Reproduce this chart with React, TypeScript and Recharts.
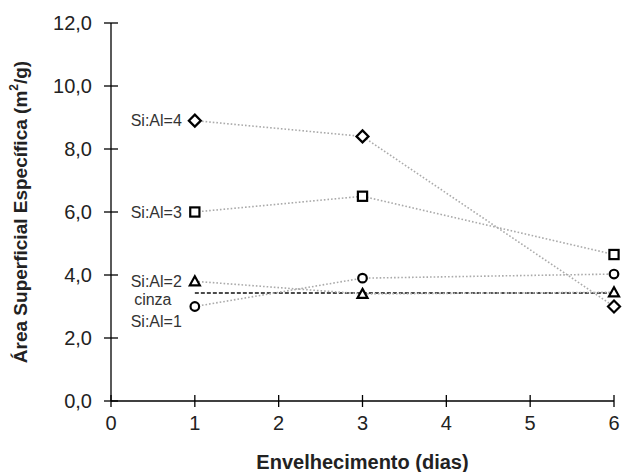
import React from 'react'
import { LineChart, Line, XAxis, YAxis, Label } from 'recharts'

const days = [1, 3, 6]
const siAl4 = [8.9, 8.4, 3.0]
const siAl3 = [6.0, 6.5, 4.65]
const siAl2 = [3.8, 3.4, 3.45]
const siAl1 = [3.0, 3.9, 4.03]
const cinza = [3.43, 3.43, 3.43]

const xTicks = [0, 1, 2, 3, 4, 5, 6]
const yTicks = [0, 2, 4, 6, 8, 10, 12]

const data = days.map((day, i) => ({
  day,
  siAl4: siAl4[i],
  siAl3: siAl3[i],
  siAl2: siAl2[i],
  siAl1: siAl1[i],
  cinza: cinza[i],
}))

const FONT = "Arial, 'Liberation Sans', sans-serif"
const TEXT = '#222'
const GREY = '#aaaaaa'

type Shape = 'diamond' | 'square' | 'triangle' | 'circle'

const makeDot = (shape: Shape) => (props: any) => {
  const { cx, cy, index } = props
  const common = { fill: '#fff', stroke: '#000', strokeWidth: 2.2 }
  if (cx == null || cy == null) return <g key={index} />
  if (shape === 'diamond') {
    return <polygon key={index} points={`${cx},${cy - 6} ${cx + 6},${cy} ${cx},${cy + 6} ${cx - 6},${cy}`} {...common} />
  }
  if (shape === 'square') {
    return <rect key={index} x={cx - 4.6} y={cy - 4.6} width={9.2} height={9.2} {...common} />
  }
  if (shape === 'triangle') {
    return <polygon key={index} points={`${cx},${cy - 5} ${cx + 5},${cy + 4} ${cx - 5},${cy + 4}`} {...common} />
  }
  return <circle key={index} cx={cx} cy={cy} r={4.3} {...common} />
}

const makeLabel = (text: string, dx: number, dy: number, anchor: 'end' | 'middle') => (props: any) => {
  const { x, y, index } = props
  if (index !== 0) return <g key={`l${index}`} />
  return (
    <text
      key={`l${index}`}
      x={x + dx}
      y={y + dy}
      textAnchor={anchor}
      dominantBaseline="central"
      fontFamily={FONT}
      fontSize={16}
      fill="#333"
    >
      {text}
    </text>
  )
}

const XTick = (props: any) => {
  const { x, y, payload } = props
  return (
    <g>
      <line x1={x} x2={x} y1={y - 6} y2={y + 6} stroke="#000" strokeWidth={1.3} />
      <text x={x} y={y + 22} textAnchor="middle" dominantBaseline="central" fontFamily={FONT} fontSize={20} fill={TEXT}>
        {payload.value}
      </text>
    </g>
  )
}

const YTick = (props: any) => {
  const { x, y, payload } = props
  return (
    <g>
      <line x1={x - 7} x2={x + 7} y1={y} y2={y} stroke="#000" strokeWidth={1.3} />
      <text x={x - 19} y={y} textAnchor="end" dominantBaseline="central" fontFamily={FONT} fontSize={20} fill={TEXT}>
        {payload.value.toFixed(1).replace('.', ',')}
      </text>
    </g>
  )
}

export default function App() {
  return (
    <div style={{ position: 'absolute', left: 0, top: 0, background: '#fff' }}>
      <LineChart width={637} height={472} data={data} margin={{ top: 23, right: 23, bottom: 0, left: 0 }}>
        <XAxis
          dataKey="day"
          type="number"
          domain={[0, 6]}
          ticks={xTicks}
          height={71}
          tickSize={0}
          tickMargin={0}
          tickLine={false}
          tick={<XTick />}
          axisLine={{ stroke: '#000', strokeWidth: 1.3 }}
          interval={0}
        >
          <Label
            content={(p: any) => {
              const vb = p.viewBox
              return (
                <text
                  x={vb.x + vb.width / 2}
                  y={vb.y + 61}
                  textAnchor="middle"
                  dominantBaseline="central"
                  fontFamily={FONT}
                  fontSize={20}
                  fontWeight="bold"
                  fill={TEXT}
                >
                  Envelhecimento (dias)
                </text>
              )
            }}
          />
        </XAxis>
        <YAxis
          type="number"
          domain={[0, 12]}
          ticks={yTicks}
          width={111}
          tickSize={0}
          tickMargin={0}
          tickLine={false}
          tick={<YTick />}
          axisLine={{ stroke: '#000', strokeWidth: 1.3 }}
          interval={0}
        >
          <Label
            content={(p: any) => {
              const vb = p.viewBox
              const cx = vb.x + 20
              const cy = vb.y + vb.height / 2
              return (
                <text
                  x={cx}
                  y={cy}
                  transform={`rotate(-90, ${cx}, ${cy})`}
                  textAnchor="middle"
                  dominantBaseline="central"
                  fontFamily={FONT}
                  fontSize={19}
                  fontWeight="bold"
                  fill={TEXT}
                >
                  Área Superficial Específica (m<tspan dy={-6} fontSize={12}>2</tspan><tspan dy={6}>/g)</tspan>
                </text>
              )
            }}
          />
        </YAxis>
        <Line
          dataKey="cinza"
          stroke="#111"
          strokeWidth={1.4}
          strokeDasharray="4 2"
          dot={false}
          isAnimationActive={false}
          label={makeLabel('cinza', -42, 7, 'middle')}
        />
        <Line
          dataKey="siAl4"
          stroke={GREY}
          strokeWidth={1.6}
          strokeDasharray="1.6 2"
          dot={makeDot('diamond')}
          isAnimationActive={false}
          label={makeLabel('Si:Al=4', -13, 0, 'end')}
        />
        <Line
          dataKey="siAl3"
          stroke={GREY}
          strokeWidth={1.6}
          strokeDasharray="1.6 2"
          dot={makeDot('square')}
          isAnimationActive={false}
          label={makeLabel('Si:Al=3', -13, 0, 'end')}
        />
        <Line
          dataKey="siAl2"
          stroke={GREY}
          strokeWidth={1.6}
          strokeDasharray="1.6 2"
          dot={makeDot('triangle')}
          isAnimationActive={false}
          label={makeLabel('Si:Al=2', -13, 0, 'end')}
        />
        <Line
          dataKey="siAl1"
          stroke={GREY}
          strokeWidth={1.6}
          strokeDasharray="1.6 2"
          dot={makeDot('circle')}
          isAnimationActive={false}
          label={makeLabel('Si:Al=1', -13, 15, 'end')}
        />
      </LineChart>
    </div>
  )
}
